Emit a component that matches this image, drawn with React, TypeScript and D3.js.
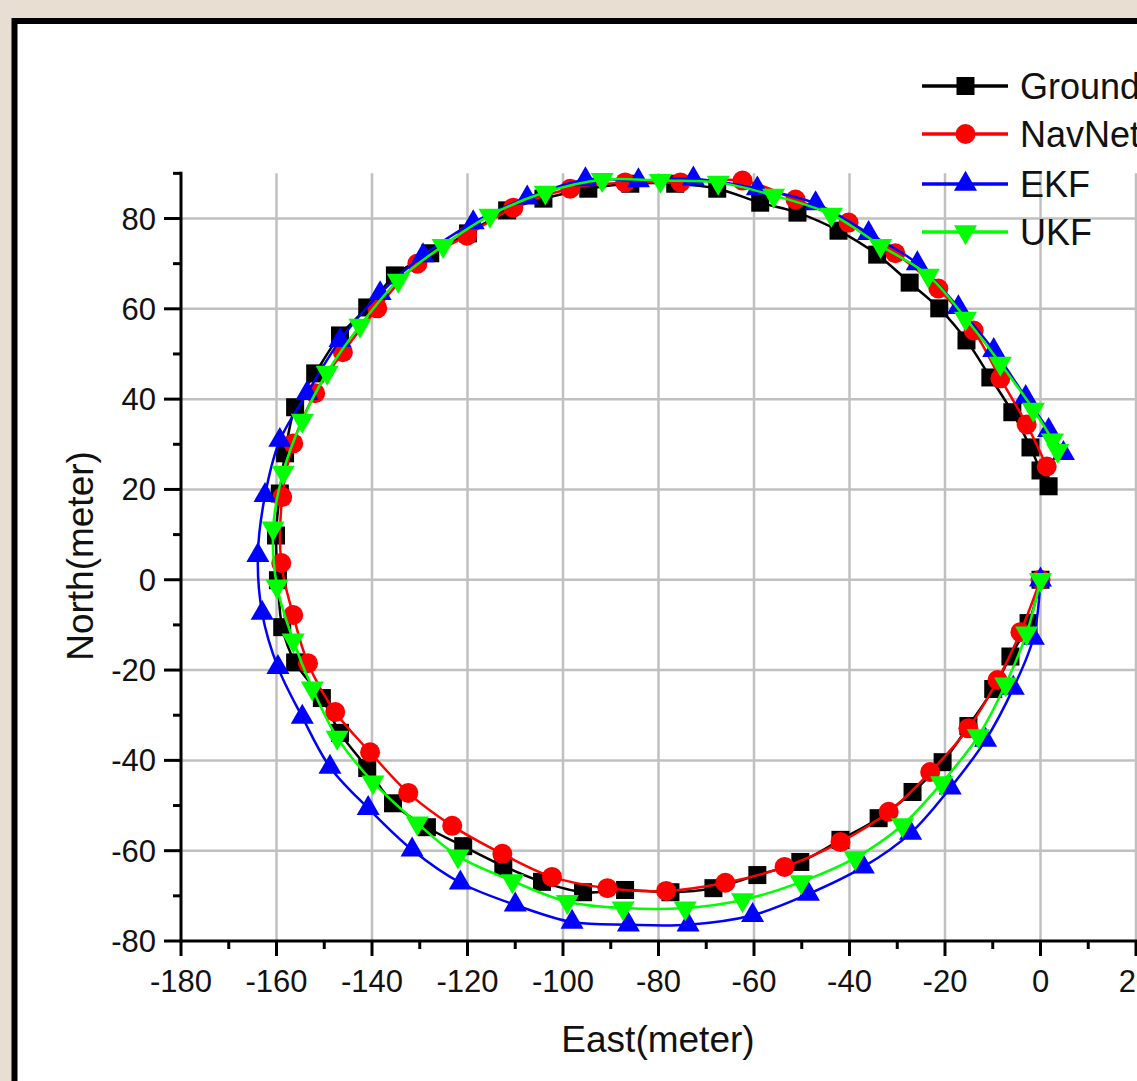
import React from 'react';
import * as d3 from 'd3';

// trajectories: [east, north] in meters
const groundTruth: [number, number][] = [
  [0, 0], [-2.5, -9.6], [-6.3, -17.0], [-9.9, -24.2], [-15.1, -32.4], [-20.5, -40.4],
  [-26.8, -47.0], [-33.9, -52.8], [-41.9, -57.6], [-50.3, -62.5], [-59.3, -65.4],
  [-68.5, -68.3], [-77.5, -69.2], [-87.0, -68.7], [-95.8, -69.2], [-104.4, -66.9],
  [-112.5, -63.4], [-120.9, -59.0], [-128.5, -54.8], [-135.6, -49.5], [-141.0, -41.7],
  [-146.7, -33.9], [-150.5, -26.2], [-156.1, -18.3], [-158.8, -10.5], [-159.7, -0.1],
  [-160.1, 9.8], [-159.3, 19.1], [-158.2, 28.0], [-156.1, 38.2], [-151.9, 45.7],
  [-146.7, 54.1], [-141.0, 60.3], [-135.2, 67.4], [-127.8, 72.3], [-119.9, 76.7],
  [-111.7, 81.8], [-104.1, 84.4], [-94.7, 86.6], [-85.9, 87.7], [-76.5, 87.7],
  [-67.7, 86.6], [-58.7, 83.5], [-50.9, 81.3], [-42.3, 77.3], [-34.2, 72.0],
  [-27.4, 65.8], [-21.2, 60.1], [-15.5, 53.0], [-10.5, 44.8], [-5.9, 37.1],
  [-2.1, 29.3], [0.0, 24.2], [1.7, 20.7],
];

const navNet: [number, number][] = [
  [0, 0], [-4.2, -11.6], [-9.0, -22.2], [-15.1, -32.9], [-23.1, -42.6], [-31.8, -51.4],
  [-41.9, -58.1], [-53.6, -63.6], [-66.0, -67.1], [-78.4, -68.9], [-90.7, -68.3],
  [-102.3, -65.8], [-112.7, -60.7], [-123.2, -54.5], [-132.4, -47.2], [-140.4, -38.2],
  [-147.7, -29.3], [-153.4, -18.5], [-156.5, -7.8], [-159.0, 3.7], [-158.8, 18.3],
  [-156.5, 30.2], [-151.9, 41.3], [-146.1, 50.4], [-138.9, 60.1], [-130.5, 70.0],
  [-120.1, 76.2], [-110.4, 82.4], [-98.5, 86.6], [-87.0, 88.0], [-75.4, 88.0],
  [-62.4, 88.4], [-51.3, 84.2], [-40.2, 79.1], [-30.4, 72.3], [-21.4, 64.5],
  [-14.0, 55.2], [-8.4, 44.6], [-2.9, 34.4], [1.3, 25.1],
];

const ekf: [number, number][] = [
  [0, 0], [-1.5, -12.9], [-5.7, -24.0], [-11.5, -35.5], [-18.9, -46.1], [-27.2, -56.1],
  [-37.1, -63.6], [-48.6, -69.6], [-60.3, -74.3], [-73.8, -76.4], [-86.3, -76.4],
  [-98.1, -75.8], [-110.0, -72.0], [-121.5, -67.1], [-131.6, -59.8], [-140.8, -50.6],
  [-148.8, -41.5], [-154.6, -30.4], [-159.7, -19.4], [-163.0, -7.4], [-163.9, 5.4],
  [-162.4, 18.7], [-159.3, 30.9], [-153.6, 41.3], [-146.7, 53.0], [-138.3, 63.4],
  [-129.3, 71.8], [-118.8, 79.1], [-107.5, 84.6], [-95.3, 88.6], [-84.2, 88.4],
  [-72.7, 88.8], [-59.3, 86.6], [-47.1, 83.3], [-36.0, 76.7], [-25.8, 70.0],
  [-17.2, 60.3], [-9.8, 50.8], [-3.1, 40.4], [1.7, 33.1], [4.8, 28.0],
];

const ukf: [number, number][] = [
  [0, 0], [-2.9, -11.8], [-7.3, -23.1], [-13.0, -34.6], [-20.7, -45.0], [-28.9, -54.3],
  [-38.8, -61.6], [-50.1, -66.9], [-62.4, -70.9], [-74.4, -72.7], [-87.4, -72.7],
  [-99.1, -71.3], [-110.6, -66.7], [-122.0, -61.2], [-130.5, -53.9], [-139.8, -44.8],
  [-147.3, -34.9], [-152.5, -24.0], [-156.5, -13.4], [-159.9, -1.4], [-160.7, 11.4],
  [-158.6, 23.8], [-154.6, 35.3], [-149.4, 45.9], [-142.5, 56.3], [-134.5, 66.3],
  [-125.1, 74.0], [-115.3, 80.7], [-103.7, 85.8], [-91.8, 88.6], [-79.6, 88.4],
  [-67.5, 88.0], [-55.9, 85.1], [-43.8, 80.9], [-33.5, 74.0], [-23.5, 67.4],
  [-15.7, 57.9], [-8.4, 47.9], [-1.5, 37.7], [2.5, 30.9], [3.6, 28.6],
];

const xTicks = d3.range(-180, 21, 20);
const yTicks = d3.range(-80, 81, 20);
const xMinor = d3.range(-170, 21, 20);
const yMinor = d3.range(-70, 91, 20);

const series = [
  { name: 'Ground Truth', data: groundTruth, color: '#000000', shape: 'square' },
  { name: 'NavNet', data: navNet, color: '#ff0000', shape: 'circle' },
  { name: 'EKF', data: ekf, color: '#0000ff', shape: 'up' },
  { name: 'UKF', data: ukf, color: '#00ff00', shape: 'down' },
];

const W = 1137;
const H = 1081;
const font = '"Liberation Sans", Arial, sans-serif';

function marker(shape: string, x: number, y: number, color: string, key: any) {
  if (shape === 'square') {
    return <rect key={key} x={x - 9} y={y - 9} width={18} height={18} fill={color} />;
  }
  if (shape === 'circle') {
    return <circle key={key} cx={x} cy={y} r={10} fill={color} />;
  }
  const tri = d3.symbol(d3.symbolTriangle, 230)();
  const rot = shape === 'down' ? 180 : 0;
  return <path key={key} d={tri || ''} transform={`translate(${x},${y}) rotate(${rot})`} fill={color} />;
}

export default function App() {
  const x = d3.scaleLinear().domain([-180, 20]).range([181, 1136]);
  const y = d3.scaleLinear().domain([-80, 80]).range([941, 218.5]);
  const line = d3.line<[number, number]>().x(d => x(d[0])).y(d => y(d[1])).curve(d3.curveCatmullRom);

  const top = y(90);
  const bottom = y(-80);
  const left = x(-180);

  const legendY = [86, 134, 184, 232];

  return (
    <svg width={W} height={H} style={{ position: 'absolute', left: 0, top: 0 }}>
      <rect x={0} y={0} width={W} height={H} fill="#e8ded2" />
      <rect x={14.5} y={21} width={1400} height={1400} fill="#ffffff" stroke="#000" strokeWidth={6} />

      {/* grid */}
      {xTicks.slice(1).map(t => (
        <line key={'gx' + t} x1={x(t)} x2={x(t)} y1={top} y2={bottom} stroke="#c0c0c0" strokeWidth={2.5} />
      ))}
      {yTicks.slice(1).map(t => (
        <line key={'gy' + t} x1={left} x2={W} y1={y(t)} y2={y(t)} stroke="#c0c0c0" strokeWidth={2.5} />
      ))}

      {/* axes */}
      <line x1={left} x2={left} y1={top - 1.5} y2={bottom + 1.5} stroke="#000" strokeWidth={3} />
      <line x1={left - 1.5} x2={W + 10} y1={bottom} y2={bottom} stroke="#000" strokeWidth={3} />
      {yTicks.map(t => (
        <line key={'ty' + t} x1={left - 17} x2={left} y1={y(t)} y2={y(t)} stroke="#000" strokeWidth={3} />
      ))}
      {yMinor.map(t => (
        <line key={'my' + t} x1={left - 8} x2={left} y1={y(t)} y2={y(t)} stroke="#000" strokeWidth={3} />
      ))}
      {xTicks.map(t => (
        <line key={'tx' + t} x1={x(t)} x2={x(t)} y1={bottom} y2={bottom + 15} stroke="#000" strokeWidth={3} />
      ))}
      {xMinor.map(t => (
        <line key={'mx' + t} x1={x(t)} x2={x(t)} y1={bottom} y2={bottom + 8} stroke="#000" strokeWidth={3} />
      ))}

      {/* tick labels */}
      {yTicks.map(t => (
        <text key={'ly' + t} x={156} y={y(t) + 11} textAnchor="end" fontFamily={font} fontSize={31} fill="#111">
          {t}
        </text>
      ))}
      {xTicks.map(t => (
        <text key={'lx' + t} x={x(t)} y={992} textAnchor="middle" fontFamily={font} fontSize={31} fill="#111">
          {t}
        </text>
      ))}

      <text x={658} y={1052} textAnchor="middle" fontFamily={font} fontSize={37} fill="#111">East(meter)</text>
      <text transform={`translate(93,556) rotate(-90)`} textAnchor="middle" fontFamily={font} fontSize={37} fill="#111">
        North(meter)
      </text>

      {/* series */}
      {series.map(s => (
        <g key={s.name}>
          <path d={line(s.data) || ''} fill="none" stroke={s.color} strokeWidth={2.5} />
          {s.data.map((d, i) => marker(s.shape, x(d[0]), y(d[1]), s.color, i))}
        </g>
      ))}

      {/* legend */}
      {series.map((s, i) => (
        <g key={'lg' + s.name}>
          <line x1={922} x2={1008} y1={legendY[i]} y2={legendY[i]} stroke={s.color} strokeWidth={3.5} />
          {marker(s.shape, 965.5, legendY[i], s.color, 'm')}
          <text x={1020} y={legendY[i] + 13} fontFamily={font} fontSize={36} fill="#111">{s.name}</text>
        </g>
      ))}
    </svg>
  );
}
